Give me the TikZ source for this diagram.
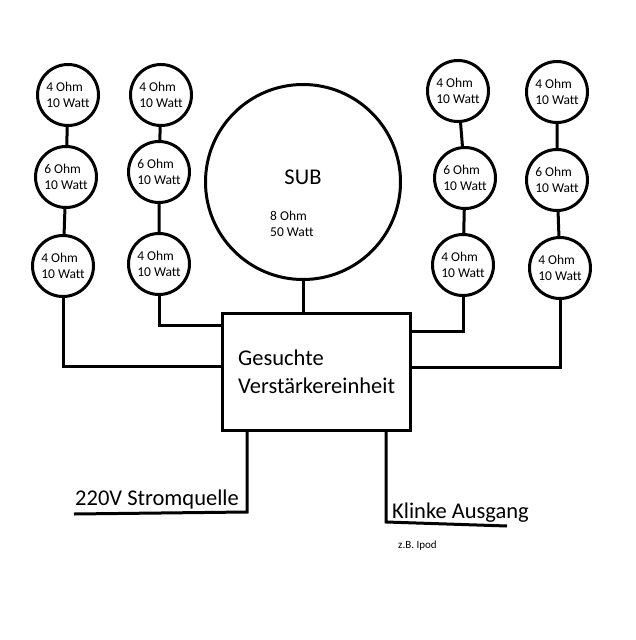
\documentclass[tikz,border=0pt]{standalone}
\usepackage{fontspec}
\setmainfont{Carlito}[Ligatures=NoCommon]
\begin{document}
\begin{tikzpicture}[x=1pt,y=-1pt,
  spk/.style={circle,draw,line width=3pt,minimum size=61pt,inner sep=0pt,align=left,
    font=\fontsize{13.5}{16.5}\selectfont},
  wire/.style={line width=3pt},
  big/.style={font=\fontsize{22.5}{28}\selectfont,inner sep=0pt}]
\useasboundingbox (0,0) rectangle (635,640);
% left column 1
\node[spk] (a1) at (68,95) {4 Ohm\\10 Watt};
\node[spk] (a2) at (66,177) {6 Ohm\\10 Watt};
\node[spk] (a3) at (63,266) {4 Ohm\\10 Watt};
% left column 2
\node[spk] (b1) at (161,95) {4 Ohm\\10 Watt};
\node[spk] (b2) at (159,172) {6 Ohm\\10 Watt};
\node[spk] (b3) at (159,264) {4 Ohm\\10 Watt};
% right column 3
\node[spk] (c1) at (458,91) {4 Ohm\\10 Watt};
\node[spk] (c2) at (465,178) {6 Ohm\\10 Watt};
\node[spk] (c3) at (463,265) {4 Ohm\\10 Watt};
% right column 4
\node[spk] (d1) at (557,92) {4 Ohm\\10 Watt};
\node[spk] (d2) at (557,180) {6 Ohm\\10 Watt};
\node[spk] (d3) at (560,268) {4 Ohm\\10 Watt};
% sub
\node[circle,draw,line width=3pt,minimum size=195pt,inner sep=0pt] (sub) at (303,182) {};
\node[font=\fontsize{22.5}{26}\selectfont,inner sep=0pt] (subt) at (303,177) {SUB};
\node[font=\fontsize{13.5}{16.5}\selectfont,align=left,inner sep=0pt,anchor=west] (subs) at (270,224) {8 Ohm\\50 Watt};
% amplifier box
\node[draw,line width=3pt,minimum width=188pt,minimum height=117pt,inner sep=0pt] (box) at (316,372) {};
\node[big,align=left,anchor=west] (boxt) at (238,372) {Gesuchte\\Verstärkereinheit};
% speaker chains
\draw[wire] (a1) -- (a2) -- (a3);
\draw[wire] (b1) -- (b2) -- (b3);
\draw[wire] (c1) -- (c2) -- (c3);
\draw[wire] (d1) -- (d2) -- (d3);
% wires to box
\coordinate (ya) at (0,366);
\coordinate (yb) at (0,325);
\coordinate (yc) at (0,331);
\coordinate (yd) at (0,367);
\draw[wire] (a3.south) |- (box.west |- ya);
\draw[wire] (b3.south) |- (box.west |- yb);
\draw[wire] (c3.south) |- (box.east |- yc);
\draw[wire] (d3.south) |- (box.east |- yd);
\draw[wire] (sub.south) -- (box.north -| sub.south);
% bottom wires
\coordinate (xl) at (247,0);
\coordinate (xr) at (386,0);
\coordinate (pl) at (74,514);
\coordinate (pr) at (507,526);
\draw[wire] (box.south -| xl) -- (247,512) -- (pl);
\draw[wire] (box.south -| xr) -- (386,522) -- (pr);
\node[big,anchor=base west] (strom) at (75,505) {220V Stromquelle};
\node[big,anchor=base west] (klinke) at (392,518) {Klinke Ausgang};
\node[font=\fontsize{11}{13}\selectfont,inner sep=0pt,anchor=base west] (ipod) at (398,548) {z.B. Ipod};
\end{tikzpicture}
\end{document}
